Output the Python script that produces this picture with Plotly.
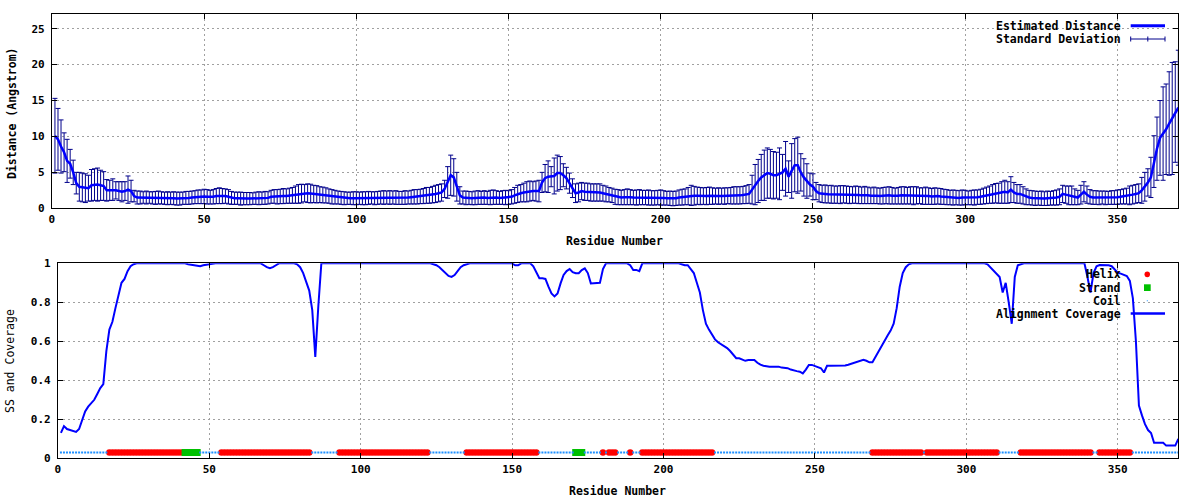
import plotly.graph_objects as go

# ---------------- data ----------------
residue = list(range(1, 371))

distance = [
    10.1, 9.6, 8.6, 7.8, 6.6, 6.2, 5.0, 3.5, 3.0, 2.9,
    2.8, 2.8, 3.2, 3.3, 3.3, 3.2, 3.1, 2.5, 2.5, 2.6,
    2.5, 2.4, 2.3, 2.4, 2.6, 2.4, 1.7, 1.5, 1.5, 1.5,
    1.5, 1.5, 1.45, 1.45, 1.5, 1.45, 1.4, 1.4, 1.4, 1.4,
    1.35, 1.35, 1.4, 1.45, 1.45, 1.5, 1.55, 1.6, 1.6, 1.65,
    1.6, 1.55, 1.6, 1.7, 1.75, 1.7, 1.7, 1.6, 1.45, 1.4,
    1.4, 1.35, 1.35, 1.35, 1.35, 1.35, 1.4, 1.4, 1.4, 1.45,
    1.45, 1.6, 1.65, 1.6, 1.65, 1.7, 1.7, 1.75, 1.8, 1.9,
    2.0, 2.05, 2.1, 2.1, 2.05, 2.0, 1.95, 1.9, 1.85, 1.8,
    1.7, 1.6, 1.55, 1.5, 1.45, 1.4, 1.4, 1.4, 1.4, 1.4,
    1.4, 1.4, 1.4, 1.45, 1.45, 1.4, 1.45, 1.5, 1.5, 1.5,
    1.5, 1.5, 1.5, 1.45, 1.45, 1.5, 1.5, 1.55, 1.6, 1.6,
    1.65, 1.7, 1.8, 1.8, 1.9, 2.0, 2.1, 2.2, 2.7, 3.6,
    4.6, 4.3, 3.0, 1.8, 1.5, 1.45, 1.45, 1.4, 1.45, 1.5,
    1.45, 1.5, 1.45, 1.5, 1.55, 1.5, 1.45, 1.5, 1.5, 1.5,
    1.6, 1.8, 2.0, 2.1, 2.2, 2.3, 2.4, 2.4, 2.4, 2.4,
    3.6, 4.2, 4.4, 4.4, 4.5, 4.9, 4.9, 4.6, 4.2, 3.5,
    2.8, 2.1, 2.2, 2.4, 2.3, 2.3, 2.2, 2.2, 2.2, 2.2,
    2.1, 2.0, 1.9, 1.8, 1.6, 1.55, 1.5, 1.55, 1.6, 1.55,
    1.5, 1.5, 1.55, 1.5, 1.5, 1.5, 1.45, 1.45, 1.5, 1.5,
    1.45, 1.4, 1.4, 1.35, 1.4, 1.5, 1.55, 1.6, 1.7, 1.8,
    1.75, 1.75, 1.7, 1.7, 1.7, 1.75, 1.7, 1.7, 1.7, 1.7,
    1.7, 1.75, 1.75, 1.8, 1.8, 1.8, 1.85, 1.9, 2.0, 2.6,
    3.3, 3.8, 4.3, 4.6, 4.9, 4.8, 4.6, 4.6, 4.8, 5.0,
    5.5, 4.4, 5.2, 6.0, 6.0, 5.0, 4.3, 3.8, 3.3, 3.0,
    2.4, 2.1, 2.0, 2.0, 1.95, 1.95, 1.9, 1.9, 1.9, 1.95,
    1.9, 1.85, 1.85, 1.9, 1.85, 1.8, 1.85, 1.8, 1.75, 1.8,
    1.75, 1.7, 1.75, 1.8, 1.8, 1.75, 1.7, 1.75, 1.8, 1.8,
    1.75, 1.8, 1.75, 1.8, 1.75, 1.7, 1.75, 1.7, 1.65, 1.7,
    1.7, 1.65, 1.6, 1.55, 1.5, 1.5, 1.5, 1.45, 1.5, 1.5,
    1.45, 1.5, 1.5, 1.55, 1.6, 1.7, 1.8, 1.9, 2.0, 2.1,
    2.1, 2.2, 2.3, 2.2, 2.6, 2.2, 2.0, 2.0, 1.8, 1.6,
    1.5, 1.45, 1.4, 1.4, 1.4, 1.35, 1.4, 1.4, 1.45, 1.5,
    1.6, 2.0, 1.9, 1.8, 1.8, 1.6, 1.5, 1.9, 2.3, 1.9,
    1.6, 1.5, 1.5, 1.45, 1.5, 1.45, 1.45, 1.5, 1.5, 1.55,
    1.6, 1.65, 1.7, 1.8, 1.9, 2.0, 2.1, 2.5, 3.0, 3.6,
    4.3, 6.5, 8.3, 9.8, 10.4, 11.0, 11.8, 12.5, 13.4, 14.0,
]

std_dev = [
    5.2, 4.3, 3.7, 2.7, 3.0, 2.0, 1.7, 1.5, 2.0, 2.0,
    2.0, 1.8, 2.2, 2.2, 2.3, 2.1, 2.0, 1.5, 1.4, 1.5,
    1.2, 1.3, 1.4, 1.3, 1.9, 1.5, 0.8, 0.9, 0.9, 0.8,
    0.9, 0.8, 0.85, 0.9, 0.9, 0.85, 0.85, 0.9, 0.85, 0.9,
    0.9, 0.9, 0.85, 0.9, 0.9, 0.9, 0.9, 0.95, 0.95, 1.0,
    1.0, 0.95, 1.0, 1.05, 1.1, 1.05, 1.0, 1.0, 0.9, 0.85,
    0.85, 0.9, 0.85, 0.85, 0.85, 0.8, 0.85, 0.9, 0.85, 0.9,
    0.85, 0.9, 0.95, 1.0, 1.0, 1.05, 1.0, 1.05, 1.1, 1.2,
    1.3, 1.3, 1.2, 1.3, 1.3, 1.2, 1.2, 1.1, 1.1, 1.05,
    1.0, 1.0, 0.95, 0.9, 0.9, 0.9, 0.85, 0.85, 0.9, 0.9,
    0.85, 0.9, 0.9, 0.9, 0.85, 0.9, 0.9, 0.9, 0.95, 0.9,
    0.95, 0.9, 0.95, 0.9, 0.9, 0.95, 0.9, 0.95, 1.0, 1.0,
    1.0, 1.05, 1.1, 1.1, 1.15, 1.2, 1.2, 1.2, 1.2, 2.2,
    2.8, 2.6, 2.0, 1.2, 0.9, 0.95, 0.9, 0.9, 0.95, 0.95,
    0.9, 0.95, 0.9, 1.0, 1.0, 0.95, 0.9, 0.95, 1.0, 0.95,
    1.0, 1.1, 1.2, 1.2, 1.3, 1.4, 1.4, 1.3, 1.4, 1.5,
    1.4, 1.9, 2.2, 1.4, 2.5, 2.5, 2.3, 1.6, 1.5, 1.4,
    1.3, 1.3, 1.3, 1.2, 1.2, 1.2, 1.2, 1.2, 1.2, 1.2,
    1.1, 1.1, 1.0, 1.0, 1.05, 1.05, 1.0, 1.05, 1.1, 1.05,
    1.0, 1.05, 1.05, 1.0, 1.0, 1.05, 1.0, 1.0, 1.0, 1.05,
    1.0, 0.95, 1.0, 1.0, 1.0, 1.05, 1.1, 1.1, 1.2, 1.4,
    1.3, 1.2, 1.2, 1.15, 1.2, 1.2, 1.15, 1.1, 1.15, 1.1,
    1.15, 1.1, 1.15, 1.2, 1.2, 1.2, 1.2, 1.25, 1.3, 2.0,
    2.8, 3.0, 3.2, 3.5, 3.5, 3.4, 3.3, 3.2, 3.6, 2.5,
    3.8, 2.2, 3.8, 3.7, 3.9, 2.6, 2.6, 2.4, 1.6, 1.8,
    1.2, 1.2, 1.2, 1.25, 1.2, 1.25, 1.2, 1.2, 1.25, 1.2,
    1.2, 1.2, 1.15, 1.2, 1.2, 1.15, 1.2, 1.15, 1.1, 1.15,
    1.1, 1.1, 1.15, 1.15, 1.2, 1.15, 1.1, 1.15, 1.2, 1.2,
    1.15, 1.2, 1.25, 1.2, 1.1, 1.15, 1.2, 1.15, 1.1, 1.15,
    1.1, 1.1, 1.05, 1.05, 1.0, 1.05, 1.0, 1.0, 1.05, 1.0,
    0.95, 1.0, 1.05, 1.0, 1.05, 1.1, 1.15, 1.2, 1.3, 1.35,
    1.4, 1.5, 1.6, 1.5, 1.8, 1.4, 1.3, 1.3, 1.2, 1.1,
    1.0, 1.0, 1.0, 0.95, 1.0, 0.95, 1.0, 0.95, 1.0, 1.05,
    1.1, 1.2, 1.2, 1.3, 1.3, 1.1, 1.0, 1.3, 1.4, 1.2,
    1.0, 0.95, 0.95, 0.95, 0.9, 0.95, 0.9, 0.95, 0.95, 1.0,
    1.0, 1.05, 1.1, 1.3, 1.3, 1.3, 1.3, 1.8, 2.0, 1.9,
    2.8, 3.6, 4.4, 5.2, 6.5, 6.3, 7.2, 7.8, 7.0, 8.0,
]

coverage = [
    0.13, 0.165, 0.15, 0.145, 0.14, 0.135, 0.15, 0.2, 0.24, 0.265,
    0.28, 0.3, 0.33, 0.36, 0.38, 0.55, 0.66, 0.7, 0.77, 0.84,
    0.9, 0.92, 0.96, 0.985, 0.995, 1, 1, 1, 1, 1,
    1, 1, 1, 1, 1, 1, 1, 1, 1, 1,
    1, 1, 0.995, 0.993, 0.99, 0.99, 0.985, 0.99, 0.993, 0.995,
    1, 1, 1, 1, 1, 1, 1, 1, 1, 1,
    1, 1, 1, 1, 1, 1, 1, 0.99, 0.98, 0.975,
    0.98, 0.99, 1, 1, 1, 1, 1, 1, 0.995, 0.98,
    0.95, 0.9, 0.86, 0.76, 0.52, 0.78, 1, 1, 1, 1,
    1, 1, 1, 1, 1, 1, 1, 1, 1, 1,
    1, 1, 1, 1, 1, 1, 1, 1, 1, 1,
    1, 1, 1, 1, 1, 1, 1, 1, 1, 1,
    1, 1, 1, 0.995, 0.99, 0.98, 0.965, 0.945, 0.935, 0.93,
    0.94, 0.96, 0.98, 0.99, 0.997, 1, 1, 1, 1, 1,
    1, 1, 1, 1, 1, 1, 1, 1, 1, 1,
    0.99, 0.99, 1, 1, 1, 1, 0.985, 0.95, 0.923, 0.923,
    0.92, 0.88, 0.845, 0.83, 0.845, 0.897, 0.94, 0.96, 0.971, 0.955,
    0.949, 0.949, 0.965, 0.974, 0.95, 0.897, 0.897, 0.9, 0.9, 0.97,
    1, 1, 1, 1, 1, 1, 1, 1, 0.99, 0.966,
    0.966, 0.96, 1, 1, 1, 1, 1, 1, 1, 1,
    1, 1, 1, 1, 1, 0.995, 0.99, 0.99, 0.97, 0.95,
    0.9, 0.85, 0.76, 0.69, 0.66, 0.635, 0.61, 0.595, 0.585, 0.575,
    0.565, 0.55, 0.53, 0.513, 0.513, 0.505, 0.5, 0.504, 0.504, 0.504,
    0.49, 0.48, 0.475, 0.472, 0.47, 0.47, 0.47, 0.47, 0.465, 0.462,
    0.462, 0.455, 0.45, 0.447, 0.444, 0.435, 0.455, 0.479, 0.479, 0.472,
    0.465, 0.462, 0.44, 0.474, 0.474, 0.474, 0.474, 0.474, 0.474, 0.476,
    0.48, 0.485, 0.487, 0.495, 0.5, 0.505, 0.5, 0.492, 0.492, 0.52,
    0.55, 0.58, 0.6, 0.63, 0.655, 0.69, 0.77, 0.88, 0.95, 0.98,
    0.995, 1, 1, 1, 1, 1, 1, 1, 1, 1,
    1, 1, 1, 1, 1, 1, 1, 1, 1, 1,
    1, 1, 1, 1, 1, 1, 0.995, 0.98, 0.96, 0.945,
    0.93, 0.85, 0.9, 0.8, 0.69, 0.93, 0.99, 0.995, 1, 1,
    1, 1, 1, 1, 1, 1, 1, 1, 1, 1,
    1, 1, 1, 1, 1, 1, 1, 1, 1, 0.93,
    0.85, 0.95, 0.985, 0.991, 0.991, 0.991, 0.99, 0.985, 0.97, 0.952,
    0.947, 0.94, 0.935, 0.91, 0.82, 0.6, 0.27, 0.22, 0.175, 0.145,
    0.13, 0.08, 0.08, 0.08, 0.08, 0.065, 0.065, 0.065, 0.065, 0.1,
]

# secondary structure segments (first, last residue)
helix_segments = [(17, 41), (54, 83), (93, 122), (135, 158), (180, 180),
                  (182, 184), (189, 189), (193, 216), (269, 285), (287, 310),
                  (318, 341), (344, 354)]
strand_segments = [(42, 46), (171, 173)]
SS_LEVEL = 0.03

x_ticks = [0, 50, 100, 150, 200, 250, 300, 350]
y1_ticks = [0, 5, 10, 15, 20, 25]
y2_ticks = [0, 0.2, 0.4, 0.6, 0.8, 1]

# ---------------- derived ----------------
helix_res = [r for a, b in helix_segments for r in range(a, b + 1)]
strand_res = [r for a, b in strand_segments for r in range(a, b + 1)]
coil_res = [r for r in residue if r not in set(helix_res) | set(strand_res)]

W, H = 1200, 500
def px(x):
    return x / W
def py(y):
    return 1 - y / H

FONT = "DejaVu Sans Mono"
BLUE = "#0000ff"
NAVY = "#00008b"

fig = go.Figure()

fig.add_trace(go.Scatter(
    x=residue, y=distance, mode="lines", name="Estimated Distance",
    line=dict(color=BLUE, width=2.5),
    error_y=dict(type="data", array=std_dev, visible=True, color=NAVY,
                 thickness=1, width=2.5),
    xaxis="x", yaxis="y", showlegend=False))

fig.add_trace(go.Scatter(
    x=helix_res, y=[SS_LEVEL] * len(helix_res), mode="markers", name="Helix",
    marker=dict(symbol="circle", size=6.5, color="#ff0000", line=dict(width=0)),
    xaxis="x2", yaxis="y2", showlegend=False))
fig.add_trace(go.Scatter(
    x=strand_res, y=[SS_LEVEL] * len(strand_res), mode="markers", name="Strand",
    marker=dict(symbol="square", size=7, color="#00c000", line=dict(width=0)),
    xaxis="x2", yaxis="y2", showlegend=False))
fig.add_trace(go.Scatter(
    x=coil_res, y=[SS_LEVEL] * len(coil_res), mode="markers", name="Coil",
    marker=dict(symbol="square", size=2, color="#1e90ff", line=dict(width=0)),
    xaxis="x2", yaxis="y2", showlegend=False))
fig.add_trace(go.Scatter(
    x=residue, y=coverage, mode="lines", name="Alignment Coverage",
    line=dict(color=BLUE, width=2),
    xaxis="x2", yaxis="y2", showlegend=False))

axis_common = dict(
    showline=True, linecolor="black", linewidth=1, mirror="ticks",
    ticks="inside", ticklen=5, tickcolor="black", tickwidth=1,
    showgrid=True, gridcolor="#a0a0a0", griddash="2px,3px", gridwidth=1,
    zeroline=False, automargin=False,
    tickfont=dict(family=FONT, size=11, color="black", weight="bold"),
)

fig.update_layout(
    width=W, height=H, margin=dict(l=0, r=0, t=0, b=0, autoexpand=False),
    paper_bgcolor="white", plot_bgcolor="white",
    font=dict(family=FONT, size=11, color="black"),
    xaxis=dict(domain=[px(51.9), px(1178.3)], anchor="y", range=[0, 370],
               tickvals=x_ticks, **axis_common),
    yaxis=dict(domain=[py(208.3), py(14.3)], anchor="x", range=[0, 27],
               tickvals=y1_ticks, ticklabelstandoff=4, **axis_common),
    xaxis2=dict(domain=[px(57.9), px(1178.3)], anchor="y2", range=[0, 370],
                tickvals=x_ticks, **axis_common),
    yaxis2=dict(domain=[py(458.3), py(263.3)], anchor="x2", range=[0, 1],
                tickvals=y2_ticks, ticklabelstandoff=4, **axis_common),
)

ann = []
def text(x, y, s, xanchor="center", angle=0, bold=True):
    ann.append(dict(x=px(x), y=py(y), xref="paper", yref="paper", text=s,
                    showarrow=False, xanchor=xanchor, yanchor="middle",
                    textangle=angle,
                    font=dict(family=FONT, size=11.5, color="black",
                              weight="bold" if bold else "normal")))

text(614, 240.7, "Residue Number")
text(617, 490.7, "Residue Number")
text(12, 113, "Distance (Angstrom)", angle=-90)
text(10, 361, "SS and Coverage", angle=-90, bold=False)

text(1122.7, 25.7, "Estimated Distance", xanchor="right")
text(1122.7, 39, "Standard Deviation", xanchor="right")
text(1122.7, 274.3, "Helix", xanchor="right")
text(1122.7, 287.7, "Strand", xanchor="right")
text(1122.7, 300.7, "Coil", xanchor="right")
text(1122.7, 313.7, "Alignment Coverage", xanchor="right")

shapes = []
def seg(x0, y0, x1, y1, color, width):
    shapes.append(dict(type="line", xref="paper", yref="paper",
                       x0=px(x0), y0=py(y0), x1=px(x1), y1=py(y1),
                       line=dict(color=color, width=width)))
def box(x0, y0, x1, y1, color, kind="rect"):
    shapes.append(dict(type=kind, xref="paper", yref="paper",
                       x0=px(x0), y0=py(y0), x1=px(x1), y1=py(y1),
                       fillcolor=color, line=dict(width=0)))

# legend samples
seg(1130.7, 25.7, 1165, 25.7, BLUE, 3)
seg(1130.7, 39, 1165, 39, NAVY, 1)
for xx in (1130.7, 1147.8, 1165):
    seg(xx, 36.5, xx, 41.5, NAVY, 1)
box(1144.5, 271.5, 1150, 277.2, "#ff0000", "circle")
box(1144, 284.3, 1150.7, 291, "#00c000")
box(1146.8, 300.2, 1147.8, 301.2, "#1e90ff")
seg(1130.7, 313.5, 1165, 313.5, BLUE, 2.5)

fig.update_layout(annotations=ann, shapes=shapes)

fig.write_html("out.html", config={"displayModeBar": False},
               post_script="document.body.style.margin='0px';")
